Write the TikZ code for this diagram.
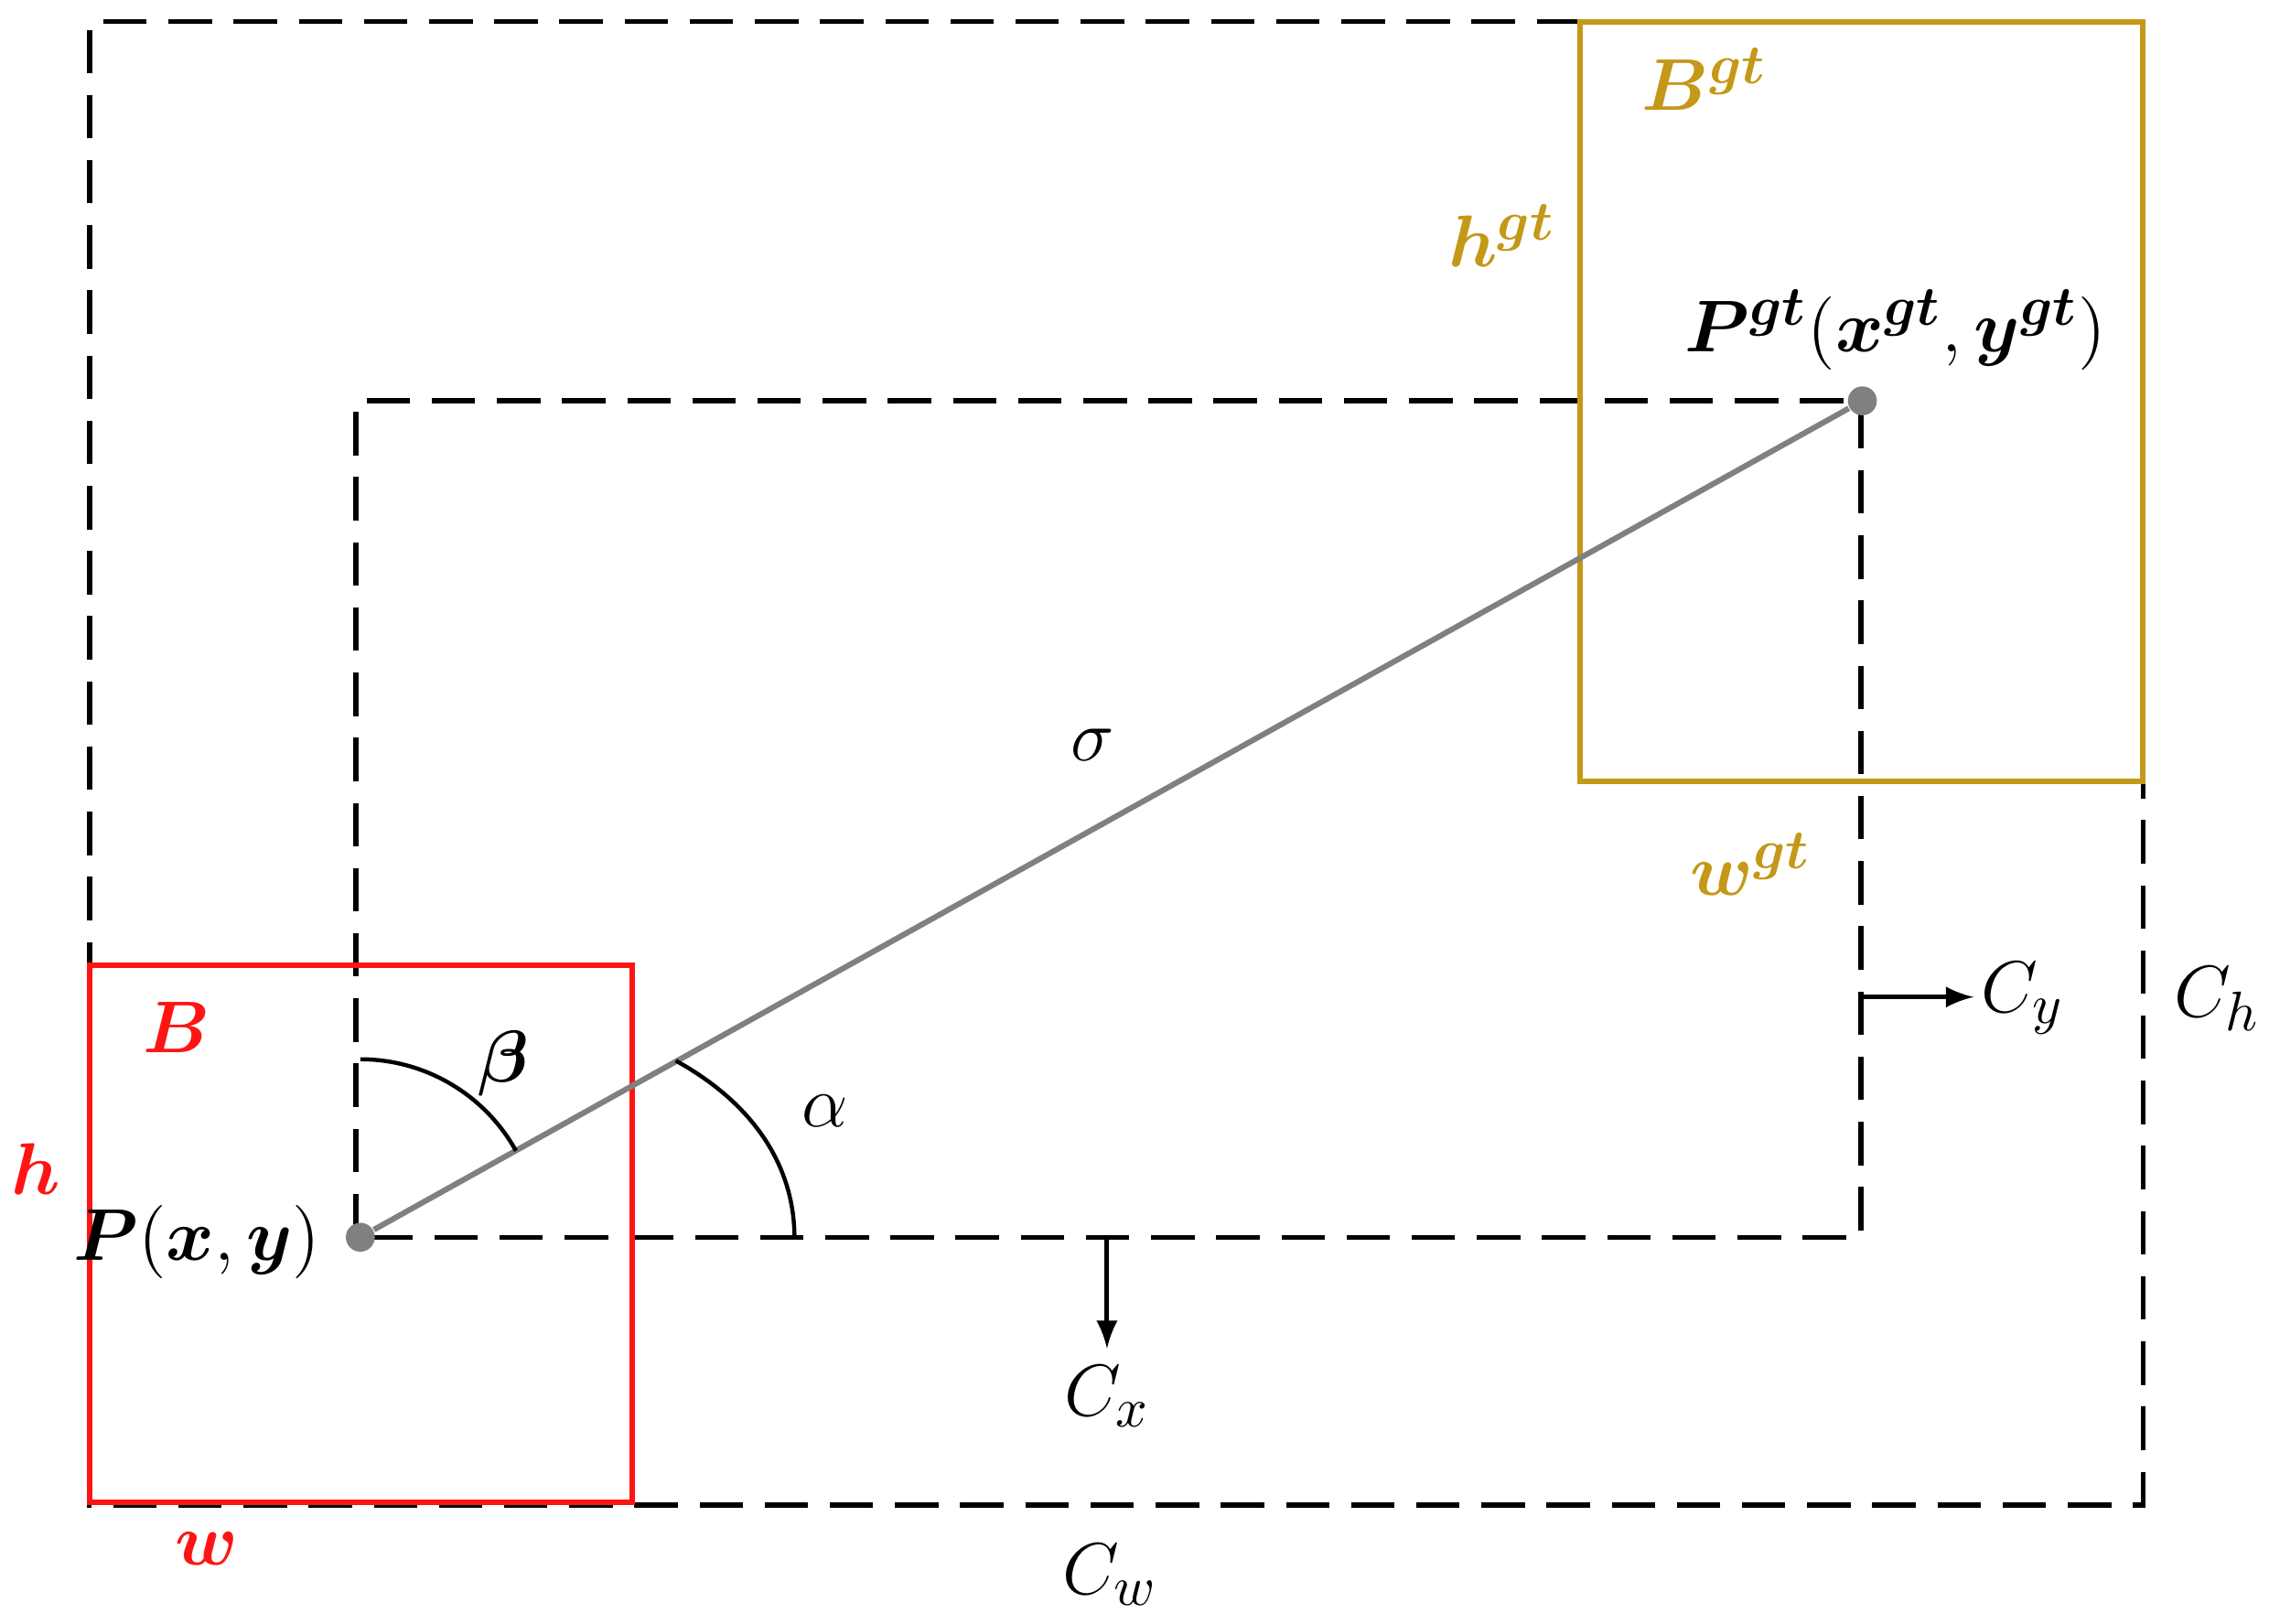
\documentclass[tikz,border=0pt]{standalone}
\usepackage{bm}
\definecolor{gold}{RGB}{196,152,24}
\definecolor{redb}{RGB}{255,20,20}
\begin{document}
\begin{tikzpicture}[x=0.01cm,y=-0.01cm,
  dsh/.style={line width=1pt,dash pattern=on 0.3cm off 0.15cm},
  lbl/.style={font=\fontsize{15}{17}\selectfont},
  dot/.style={circle,fill=gray,inner sep=0pt,minimum size=0.2cm}]
\useasboundingbox (0,0) rectangle (1568,1122);
% outer dashed
\draw[dsh] (1092,15) -- (62,15) -- (62,1040) -- (1481,1040) -- (1481,540);
% inner dashed
\draw[dsh] (246,855) -- (246,277) -- (1286,277) -- (1286,855) -- cycle;
% boxes
\draw[redb,line width=1.1pt] (62,667) rectangle (437,1038);
\draw[gold,line width=1.1pt] (1092,15) rectangle (1481,540);
% points
\node[dot] (P) at (249,855) {};
\node[dot] (Pg) at (1287,277) {};
\draw[gray,line width=1.1pt] (P) -- (Pg);
% angles
\draw[line width=0.8pt] (249,732) arc[start angle=90,end angle=29.1,radius=1.23cm];
\draw[line width=0.8pt] (467,733) .. controls (525,765) and (549,810) .. (549,855);
% arrows
\coordinate (cx0) at (765,855); \coordinate (cx1) at (765,932);
\draw[-latex,line width=0.9pt] (cx0) -- (cx1);
\coordinate (cy0) at (1286,689); \coordinate (cy1) at (1364,689);
\draw[-latex,line width=0.9pt] (cy0) -- (cy1);
% labels
\node[lbl,text=redb] (lB) at (122,710) {$\bm{B}$};
\node[lbl,text=redb] (lh) at (25,808) {$\bm{h}$};
\node[lbl,text=redb] (lw) at (143,1070) {$\bm{w}$};
\node[lbl,anchor=east] (lP) at (234,858) {$\bm{P}(\bm{x},\bm{y})$};
\node[lbl] (lbeta) at (348,735) {$\bm{\beta}$};
\node[lbl] (lalpha) at (570,768) {$\alpha$};
\node[lbl] (lsig) at (755,515) {$\sigma$};
\node[lbl] (lcx) at (765,965) {$C_x$};
\node[lbl] (lcw) at (767,1088) {$C_w$};
\node[lbl] (lcy) at (1398,690) {$C_y$};
\node[lbl] (lch) at (1532,690) {$C_h$};
\node[lbl,text=gold] (lBg) at (1178,55) {$\bm{B^{gt}}$};
\node[lbl,text=gold] (lhg) at (1038,163) {$\bm{h^{gt}}$};
\node[lbl,text=gold] (lwg) at (1210,597) {$\bm{w^{gt}}$};
\node[lbl] (lPg) at (1310,228) {$\bm{P^{gt}}(\bm{x^{gt}},\bm{y^{gt}})$};
\end{tikzpicture}
\end{document}
